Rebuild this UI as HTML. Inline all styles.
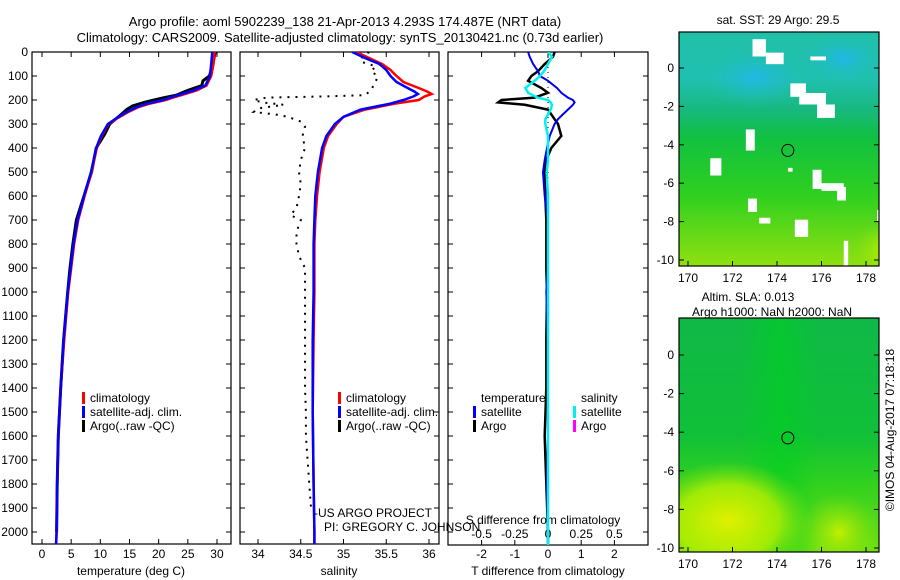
<!DOCTYPE html>
<html><head><meta charset="utf-8">
<style>
body{margin:0;background:#fff;}
svg{display:block;font-family:"Liberation Sans",sans-serif;}
text{font-size:12px;fill:#000;}
</style></head>
<body>
<svg id="chart" width="900" height="580" viewBox="0 0 900 580" xmlns="http://www.w3.org/2000/svg">
<defs>
<linearGradient id="sstGrad" x1="0" y1="0" x2="0" y2="1">
<stop offset="0" stop-color="#20c0a8"/><stop offset="0.2" stop-color="#20c0b0"/>
<stop offset="0.33" stop-color="#18b880"/><stop offset="0.45" stop-color="#10c040"/>
<stop offset="0.7" stop-color="#30d020"/><stop offset="1" stop-color="#90e010"/>
</linearGradient>
<linearGradient id="slaGrad" x1="0" y1="0" x2="0" y2="1">
<stop offset="0" stop-color="#10b848"/><stop offset="0.5" stop-color="#10c038"/>
<stop offset="0.7" stop-color="#30d020"/><stop offset="1" stop-color="#70e010"/>
</linearGradient>
<linearGradient id="band" x1="0" y1="0" x2="1" y2="0">
<stop offset="0" stop-color="#00d020" stop-opacity="0"/><stop offset="0.5" stop-color="#00d020" stop-opacity="0.6"/><stop offset="1" stop-color="#00d020" stop-opacity="0"/>
</linearGradient>
<radialGradient id="blob1" cx="0.5" cy="0.5" r="0.5"><stop offset="0" stop-color="#e0f000"/><stop offset="0.6" stop-color="#b8f000" stop-opacity="0.8"/><stop offset="1" stop-color="#80e010" stop-opacity="0"/></radialGradient>
<radialGradient id="blob2" cx="0.5" cy="0.5" r="0.5"><stop offset="0" stop-color="#c0f000"/><stop offset="1" stop-color="#80e010" stop-opacity="0"/></radialGradient>
<radialGradient id="blobBlue" cx="0.5" cy="0.5" r="0.5"><stop offset="0" stop-color="#20b8e8"/><stop offset="1" stop-color="#20c0b0" stop-opacity="0"/></radialGradient>
<clipPath id="c1"><rect x="32" y="52" width="199" height="492"/></clipPath>
<clipPath id="c2"><rect x="240" y="52" width="199" height="492"/></clipPath>
<clipPath id="c3"><rect x="448" y="52" width="200" height="493"/></clipPath>
<clipPath id="cm1"><rect x="679" y="32" width="200" height="234"/></clipPath>
<clipPath id="cm2"><rect x="679" y="318" width="200" height="234"/></clipPath>
</defs>
<text x="345" y="26" text-anchor="middle" style="font-size:13px">Argo profile: aoml 5902239_138 21-Apr-2013 4.293S 174.487E (NRT data)</text>
<text x="340" y="42" text-anchor="middle" style="font-size:13px">Climatology: CARS2009. Satellite-adjusted climatology: synTS_20130421.nc (0.73d earlier)</text>
<g id="g1"></g>
<g id="g2"></g>
<g id="g3"></g>
<g id="gm"></g>
<text x="314" y="517" style="font-size:12px">-US ARGO PROJECT</text>
<text x="324" y="531" style="font-size:12px">PI: GREGORY C. JOHNSON</text>
<text transform="translate(894,430) rotate(-90)" text-anchor="middle" style="font-size:12px">©IMOS 04-Aug-2017 07:18:18</text>
</svg>
<script>
// ---- data ----
const depthTicks = [0,100,200,300,400,500,600,700,800,900,1000,1100,1200,1300,1400,1500,1600,1700,1800,1900,2000];
const tempTicks = [0,5,10,15,20,25,30];
const salTicks = [34,34.5,35,35.5,36];
const tdiffTicks = [-2,-1,0,1,2];
const sdiffTicks = [-0.5,-0.25,0,0.25,0.5];
const lonTicks = [170,172,174,176,178];
const latTicks = [0,-2,-4,-6,-8,-10];

const tempDepth = [0,50,100,140,160,175,190,200,215,230,250,275,300,350,400,500,600,700,800,900,1000,1200,1400,1600,1800,2000,2060];
const tempClim  = [29.6,29.4,29.0,28.2,26.5,24.5,22.5,21.2,18.5,16.5,14.8,13.0,11.4,10.2,9.4,8.5,7.3,6.2,5.5,5.0,4.5,3.8,3.2,2.8,2.6,2.5,2.4];
const tempSat   = [29.2,29.0,28.8,28.0,26.0,24.0,22.0,20.8,18.0,16.2,14.5,12.8,11.3,10.1,9.3,8.4,7.2,6.1,5.4,4.9,4.4,3.7,3.2,2.8,2.6,2.5,2.4];
const argoDepth = [0,50,100,120,140,160,180,190,200,210,225,240,260,300,340,400,500,600,700,800,900,1000,1200,1400,1600,1800,2000];
const tempArgo  = [29.7,29.3,28.7,27.6,27.4,25.0,23.0,21.0,19.2,17.5,15.5,14.5,13.6,11.6,10.8,9.3,8.5,7.2,5.9,5.3,4.8,4.4,3.7,3.2,2.8,2.6,2.5];

const salDepth = [0,25,50,75,100,125,150,165,175,185,200,215,240,270,300,350,400,500,600,700,800,1000,1200,1500,1800,2000,2060];
const salClim  = [35.15,35.3,35.45,35.55,35.62,35.7,35.88,35.98,36.03,35.95,35.88,35.6,35.25,35.0,34.92,34.82,34.77,34.72,34.69,34.67,34.66,34.66,34.65,34.64,34.65,34.66,34.66];
const salSat   = [35.1,35.25,35.42,35.5,35.55,35.62,35.75,35.83,35.87,35.82,35.7,35.55,35.2,35.0,34.9,34.8,34.75,34.7,34.67,34.66,34.65,34.65,34.64,34.64,34.65,34.66,34.66];
const argoSalDepth = [0,20,40,60,80,100,120,140,160,180,185,190,200,210,220,235,250,260,270,290,310,350,400,450,500,550,600,650,680,700,750,800,850,900,950,1000,1100,1200,1300,1400,1500,1600,1700,1800,1900];
const salArgo  = [35.3,35.22,35.2,35.38,35.32,35.4,35.38,35.35,35.32,35.25,34.8,34.1,33.95,34.05,34.3,34.0,33.95,34.2,34.35,34.5,34.55,34.52,34.55,34.5,34.48,34.5,34.48,34.45,34.38,34.5,34.45,34.45,34.48,34.55,34.55,34.55,34.55,34.55,34.55,34.55,34.56,34.56,34.58,34.6,34.62];

const diffDepth = [0,20,50,80,100,120,150,170,190,200,210,220,240,260,280,300,350,400,450,500,600,700,800,900,1000,1200,1400,1600,1800,2000,2060];
const tdiffSat  = [-0.6,-0.55,-0.45,-0.3,-0.24,0.0,0.27,0.4,0.6,0.75,0.8,0.75,0.6,0.45,0.3,0.2,0.05,-0.03,-0.1,-0.15,-0.1,0.0,0.0,0.0,-0.05,0.0,0.0,0.0,-0.03,0.0,0.0];
const sdiffSat  = [0.0,0.03,0.0,-0.03,-0.06,-0.1,-0.17,-0.15,-0.08,0.0,0.02,0.03,0.02,0.0,-0.02,-0.02,0.0,0.0,0.0,-0.01,0.0,0.0,0.0,0.0,0.0,0.0,0.0,0.0,0.0,0.0,0.0];
const tdiffArgo = [0.2,0.15,-0.1,-0.3,-0.5,-0.6,-0.2,0.0,-0.4,-1.4,-1.5,-0.7,0.0,0.1,0.2,0.3,0.4,0.1,-0.05,-0.1,-0.08,-0.05,-0.05,-0.05,-0.03,-0.05,-0.05,-0.1,-0.05,0.0,0.0];

// map white (missing) patches: [lonMin, latMax, lonMax, latMin]
const sstGaps = [[172.9,1.5,173.5,0.6],[173.5,0.8,174.3,0.2],[175.5,0.6,176.2,0.4],[178.8,0.6,179.5,0.4],[174.6,-0.8,175.3,-1.5],[175.0,-1.3,176.2,-1.9],[175.8,-1.9,176.6,-2.6],[172.6,-3.2,173.0,-4.3],[171.0,-4.7,171.5,-5.6],[173.2,-7.8,173.7,-8.1],[172.7,-6.8,173.1,-7.5],[174.8,-7.9,175.4,-8.8],[175.6,-5.3,176.0,-6.3],[176.0,-6.0,177.0,-6.4],[176.7,-6.2,177.1,-6.9],[178.5,-7.4,178.8,-8.0],[177.0,-9.0,177.2,-10.3],[174.5,-5.2,174.7,-5.4]];

// ---- scales ----
const svg = document.getElementById('chart');
const NS = 'http://www.w3.org/2000/svg';
const yDepth = d => 52 + d * 0.24;
const xTemp = t => 42 + t * 5.833;
const xSal = s => 258 + (s - 34) * 85.5;
const xTd = v => 548 + v * 33.2;
const xSd = v => 548 + v * 132.8;
const xLon1 = l => 688 + (l - 170) * 22.25;
const yLat1 = l => 68 - l * 19.2;
const yLat2 = l => 355 - l * 19.3;

function mk(tag, attrs, parent) {
  const e = document.createElementNS(NS, tag);
  for (const k in attrs) e.setAttribute(k, attrs[k]);
  parent.appendChild(e);
  return e;
}
function txt(parent, x, y, s, anchor, size) {
  const t = mk('text', {x: x, y: y, 'text-anchor': anchor || 'start'}, parent);
  if (size) t.style.fontSize = size + 'px';
  t.textContent = s;
  return t;
}
function line(parent, xs, ys, depths, xf, color, width, clip, dash) {
  let d = '';
  for (let i = 0; i < xs.length; i++) d += (i ? 'L' : 'M') + xf(xs[i]).toFixed(1) + ',' + yDepth(depths[i]).toFixed(1);
  const p = mk('path', {d: d, fill: 'none', stroke: color, 'stroke-width': width, 'clip-path': 'url(#' + clip + ')'}, parent);
  if (dash) p.setAttribute('stroke-dasharray', dash);
  return p;
}
function frame(parent, x, y, w, h, xticks, xf, yticks, yf, tickBottomOnly) {
  mk('rect', {x: x, y: y, width: w, height: h, fill: 'none', stroke: '#000', 'stroke-width': 1.2}, parent);
  xticks.forEach(v => {
    const px = xf(v);
    mk('line', {x1: px, y1: y + h, x2: px, y2: y + h - 5, stroke: '#000'}, parent);
    if (!tickBottomOnly) mk('line', {x1: px, y1: y, x2: px, y2: y + 5, stroke: '#000'}, parent);
  });
  yticks.forEach(v => {
    const py = yf(v);
    mk('line', {x1: x, y1: py, x2: x + 5, y2: py, stroke: '#000'}, parent);
    mk('line', {x1: x + w, y1: py, x2: x + w - 5, y2: py, stroke: '#000'}, parent);
  });
}
function legendEntry(parent, x, y, color, label, name) {
  const g = mk('g', {}, parent);
  
  
  mk('rect', {x: x, y: y - 10, width: 3, height: 12, fill: color}, g);
  txt(g, x + 8, y, label);
}

// ---- panel 1: temperature ----
const g1 = document.getElementById('g1');
frame(g1, 32, 52, 199, 492, tempTicks, xTemp, depthTicks, yDepth);
depthTicks.forEach(d => {
  const t = txt(g1, 28, yDepth(d) + 4, String(d), 'end');
  
  
});
tempTicks.forEach(v => {
  const t = txt(g1, xTemp(v), 558, String(v), 'middle');
  
  
});
const xl1 = txt(g1, 131, 575, 'temperature (deg C)', 'middle');


const ta = line(g1, tempArgo, null, argoDepth, xTemp, '#000', 3, 'c1');


const tc = line(g1, tempClim, null, tempDepth, xTemp, '#f00', 2.5, 'c1');


const ts = line(g1, tempSat, null, tempDepth, xTemp, '#00f', 2.5, 'c1');


legendEntry(g1, 82, 402, '#f00', 'climatology', 'legend-climatology');
legendEntry(g1, 82, 416, '#00f', 'satellite-adj. clim.', 'legend-satellite-adj');
legendEntry(g1, 82, 430, '#000', 'Argo(..raw -QC)', 'legend-argo');

// ---- panel 2: salinity ----
const g2 = document.getElementById('g2');
frame(g2, 240, 52, 199, 492, salTicks, xSal, depthTicks, yDepth);
salTicks.forEach(v => {
  const t = txt(g2, xSal(v), 558, String(v), 'middle');
  
  
});
const xl2 = txt(g2, 339, 575, 'salinity', 'middle');


const sa = line(g2, salArgo, null, argoSalDepth, xSal, '#000', 2, 'c2', '2,6');


const sc = line(g2, salClim, null, salDepth, xSal, '#f00', 2.5, 'c2');


const ss = line(g2, salSat, null, salDepth, xSal, '#00f', 2.5, 'c2');


legendEntry(g2, 338, 402, '#f00', 'climatology', 'legend-climatology-sal');
legendEntry(g2, 338, 416, '#00f', 'satellite-adj. clim.', 'legend-satellite-adj-sal');
legendEntry(g2, 338, 430, '#000', 'Argo(..raw -QC)', 'legend-argo-sal');

// ---- panel 3: differences ----
const g3 = document.getElementById('g3');
frame(g3, 448, 52, 200, 493, tdiffTicks, xTd, depthTicks, yDepth);
mk('line', {x1: 548, y1: 52, x2: 548, y2: 545, stroke: '#000', 'stroke-dasharray': '1,4'}, g3);
tdiffTicks.forEach(v => {
  const t = txt(g3, xTd(v), 558, String(v), 'middle');
  
  
});
sdiffTicks.forEach(v => {
  const t = txt(g3, xSd(v), 538, String(v), 'middle');
  
  
});
const xl3 = txt(g3, 548, 575, 'T difference from climatology', 'middle');


const xl3b = txt(g3, 543, 524, 'S difference from climatology', 'middle');


const da = line(g3, tdiffArgo, null, diffDepth, xTd, '#000', 2.5, 'c3');


const dt = line(g3, tdiffSat, null, diffDepth, xTd, '#0000f0', 2, 'c3');


const dsl = line(g3, sdiffSat, null, diffDepth, xSd, '#00f0f0', 2.5, 'c3');


txt(g3, 481, 402, 'temperature');
txt(g3, 581, 402, 'salinity');
legendEntry(g3, 473, 416, '#00f', 'satellite', 'legend-t-satellite');
legendEntry(g3, 473, 430, '#000', 'Argo', 'legend-t-argo');
legendEntry(g3, 573, 416, '#00f0f0', 'satellite', 'legend-s-satellite');
legendEntry(g3, 573, 430, '#f0f', 'Argo', 'legend-s-argo');

// ---- maps ----
const gm = document.getElementById('gm');
function mapFrame(y0, yLat) {
  frame(gm, 679, y0, 200, 234, lonTicks, xLon1, latTicks, yLat, true);
  lonTicks.forEach(v => {
    const t = txt(gm, xLon1(v), y0 + 250, String(v), 'middle');
    
    
  });
  latTicks.forEach(v => {
    const t = txt(gm, 674, yLat(v) + 4, String(v), 'end');
    
    
  });
}
// SST map
const sstBg = mk('rect', {x: 679, y: 32, width: 200, height: 234, fill: 'url(#sstGrad)'}, gm);


mk('ellipse', {cx: xLon1(173), cy: yLat1(-0.5), rx: 55, ry: 30, fill: 'url(#blobBlue)', 'clip-path': 'url(#cm1)'}, gm);
mk('ellipse', {cx: xLon1(177), cy: yLat1(0.5), rx: 45, ry: 25, fill: 'url(#blobBlue)', 'clip-path': 'url(#cm1)'}, gm);
mk('ellipse', {cx: xLon1(179), cy: yLat1(-9.5), rx: 40, ry: 30, fill: 'url(#blob2)', 'clip-path': 'url(#cm1)'}, gm);
sstGaps.forEach(g => {
  const r = mk('rect', {x: xLon1(g[0]), y: yLat1(g[1]), width: xLon1(g[2]) - xLon1(g[0]), height: yLat1(g[3]) - yLat1(g[1]), fill: '#fff', 'clip-path': 'url(#cm1)'}, gm);
  
  
});
mapFrame(32, yLat1);
const c1 = mk('circle', {cx: xLon1(174.487), cy: yLat1(-4.293), r: 6, fill: 'none', stroke: '#000'}, gm);


txt(gm, 778, 24, 'sat. SST: 29 Argo: 29.5', 'middle');
// SLA map
const slaBg = mk('rect', {x: 679, y: 318, width: 200, height: 234, fill: 'url(#slaGrad)'}, gm);


mk('rect', {x: 740, y: 318, width: 80, height: 234, fill: 'url(#band)'}, gm);
mk('ellipse', {cx: xLon1(171.8), cy: yLat2(-8.6), rx: 85, ry: 60, fill: 'url(#blob1)', 'clip-path': 'url(#cm2)'}, gm);
mk('ellipse', {cx: xLon1(176.8), cy: yLat2(-9.2), rx: 40, ry: 40, fill: 'url(#blob2)', 'clip-path': 'url(#cm2)'}, gm);
mapFrame(318, yLat2);
const c2 = mk('circle', {cx: xLon1(174.487), cy: yLat2(-4.293), r: 6, fill: 'none', stroke: '#000'}, gm);


txt(gm, 748, 301, 'Altim. SLA: 0.013', 'middle');
txt(gm, 772, 316, 'Argo h1000: NaN h2000: NaN', 'middle');
</script>
</body></html>
